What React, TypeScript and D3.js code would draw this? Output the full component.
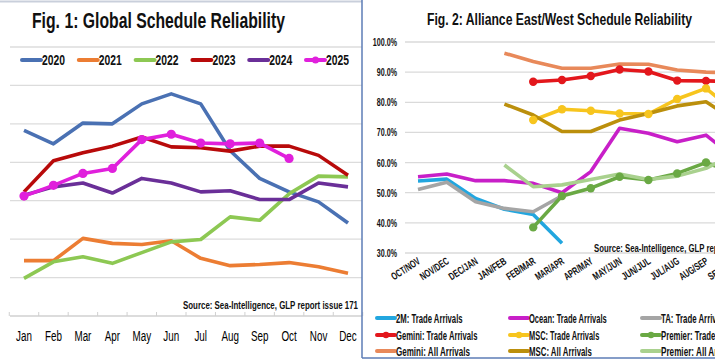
import React from 'react';
import * as d3 from 'd3';

// ---- Fig. 1 data (global schedule reliability, %) ----
const months = ['Jan', 'Feb', 'Mar', 'Apr', 'May', 'Jun', 'Jul', 'Aug', 'Sep', 'Oct', 'Nov', 'Dec'];
const years = ['2020', '2021', '2022', '2023', '2024', '2025'];
const rel2020 = [68.3, 64.8, 70.2, 70.0, 75.2, 77.8, 75.2, 63.0, 55.8, 52.3, 49.7, 44.2];
const rel2021 = [34.4, 34.4, 40.2, 38.9, 38.6, 39.6, 35.0, 33.1, 33.4, 33.9, 32.8, 31.1];
const rel2022 = [29.8, 34.1, 35.4, 33.7, 36.5, 39.3, 39.9, 45.8, 44.9, 51.8, 56.4, 56.2];
const rel2023 = [52.3, 60.4, 62.5, 64.2, 66.6, 64.0, 63.8, 62.9, 64.2, 64.2, 61.8, 56.6];
const rel2024 = [51.4, 53.6, 54.6, 52.0, 55.8, 54.6, 52.3, 52.6, 50.3, 50.3, 54.6, 53.6];
const rel2025 = [51.2, 54.0, 57.1, 58.4, 65.9, 67.3, 65.0, 64.8, 65.0, 61.0];
const yearColors = ['#4a71b3', '#ec7d33', '#8dc853', '#b80a0a', '#6a2f98', '#e020dc'];
const yearTicks = [20, 30, 40, 50, 60, 70, 80, 90];

// ---- Fig. 2 data (alliance east/west reliability, %) ----
const periods = ['OCT/NOV', 'NOV/DEC', 'DEC/JAN', 'JAN/FEB', 'FEB/MAR', 'MAR/APR', 'APR/MAY', 'MAY/JUN', 'JUN/JUL', 'JUL/AUG', 'AUG/SEP', 'SEP/OCT'];
const N = null;
const twoMTrade = [53.9, 54.5, 48.1, 44.5, 42.8, 33.2, N, N, N, N, N, N];
const oceanTrade = [55.3, 56.2, 54.0, 54.0, 53.1, 50.0, 57.0, 71.4, 69.7, 66.9, 69.1, 61.5];
const taTrade = [51.1, 53.5, 47.0, 44.8, 43.7, 49.0, N, N, N, N, N, N];
const geminiTrade = [N, N, N, N, 86.8, 87.4, 88.7, 90.9, 90.2, 87.2, 87.1, 86.8];
const mscTrade = [N, N, N, N, 74.1, 77.7, 77.2, 76.3, 76.1, 81.1, 84.6, 77.0];
const premierTrade = [N, N, N, N, 38.5, 48.9, 51.5, 55.3, 54.2, 56.4, 60.0, 56.5];
const geminiAll = [N, N, N, 96.3, 93.5, 91.3, 91.3, 92.7, 92.6, 90.7, 90.0, 89.8];
const mscAll = [N, N, N, 79.4, 75.8, 70.3, 70.3, 74.1, 76.3, 78.8, 80.2, 74.0];
const premierAll = [N, N, N, 59.2, 52.0, 52.6, 54.4, 56.2, 54.4, 55.5, 58.1, 63.0];
const pctTicks = [30, 40, 50, 60, 70, 80, 90, 100];

const seriesNames = [
  '2M: Trade Arrivals', 'Ocean: Trade Arrivals', 'TA: Trade Arrivals',
  'Gemini: Trade Arrivals', 'MSC: Trade Arrivals', 'Premier: Trade Arrivals',
  'Gemini: All Arrivals', 'MSC: All Arrivals', 'Premier: All Arrivals',
];
const seriesColors = ['#22a6df', '#c81fc8', '#a5a5a5', '#e3171c', '#f7c51e', '#6aa944', '#e8895a', '#bb8f0c', '#a9d18e'];

const FONT = "'Liberation Sans',Arial,sans-serif";

export default function App() {
  const W = 715;
  const H = 362;

  // left panel scales
  const x1 = d3.scalePoint<string>().domain(months).range([24, 348]);
  const step1 = x1.step();
  const y1 = d3.scaleLinear().domain([20, 90]).range([316, 47]);
  const yearData = [rel2020, rel2021, rel2022, rel2023, rel2024, rel2025];
  const line1 = d3.line<number>()
    .x((_, i) => x1(months[i]) ?? 0)
    .y(d => y1(d));

  // right panel scales
  const x2 = d3.scalePoint<string>().domain(periods).range([418, 418 + 28.8 * 11]);
  const y2 = d3.scaleLinear().domain([30, 100]).range([253, 42]);
  const alliance = [twoMTrade, oceanTrade, taTrade, geminiTrade, mscTrade, premierTrade, geminiAll, mscAll, premierAll];
  const withMarkers = [false, false, false, true, true, true, false, false, false];
  const line2 = d3.line<number | null>()
    .defined(d => d != null)
    .x((_, i) => x2(periods[i]) ?? 0)
    .y(d => y2(d as number));

  const legendCols = [377, 510, 642];
  const legendRows = [318, 335, 351];

  return (
    <svg width={W} height={H} style={{ position: 'absolute', left: 0, top: 0, background: '#fff' }}
      fontFamily={FONT}>
      {/* ---------- Fig. 1 ---------- */}
      <line x1={0} x2={362} y1={1.5} y2={1.5} stroke="#c9cfdb" strokeWidth={2} />
      <text x={32} y={28} fontSize={22} fontWeight="bold" fill="#111"
        textLength={253} lengthAdjust="spacingAndGlyphs">Fig. 1: Global Schedule Reliability</text>

      {yearTicks.map(t => (
        <line key={t} x1={10} x2={362} y1={y1(t)} y2={y1(t)}
          stroke={t === 20 ? '#d0d0d0' : '#dcdcdc'} strokeWidth={1.3} />
      ))}
      {d3.range(13).map(i => {
        const x = 24 - step1 / 2 + i * step1;
        return <line key={i} x1={x} x2={x} y1={y1(20) - 4} y2={y1(20)} stroke="#d0d0d0" strokeWidth={1} />;
      })}

      {/* legend */}
      {years.map((yr, i) => {
        const lx = 22 + i * 56.8;
        return (
          <g key={yr}>
            <line x1={lx} x2={lx + 19} y1={60} y2={60} stroke={yearColors[i]} strokeWidth={4} strokeLinecap="round" />
            {i === 5 && <circle cx={lx + 9.5} cy={60} r={3.5} fill={yearColors[i]} />}
            <text x={lx + 20} y={65} fontSize={14} fontWeight="bold" fill="#111"
              textLength={23} lengthAdjust="spacingAndGlyphs">{yr}</text>
          </g>
        );
      })}

      {yearData.map((d, i) => (
        <path key={years[i]} d={line1(d) ?? ''} fill="none" stroke={yearColors[i]}
          strokeWidth={3.6} strokeLinejoin="round" />
      ))}
      {rel2025.map((v, i) => (
        <circle key={i} cx={x1(months[i])} cy={y1(v)} r={4.6} fill={yearColors[5]} />
      ))}

      <text x={183} y={309} fontSize={11.5} fontWeight="bold" fill="#111"
        textLength={175} lengthAdjust="spacingAndGlyphs">Source: Sea-Intelligence, GLP report issue 171</text>

      {months.map(m => (
        <text key={m} transform={`translate(${x1(m)},341) scale(0.68,1)`} fontSize={14.5}
          textAnchor="middle" fill="#000">{m}</text>
      ))}

      {/* ---------- Fig. 2 ---------- */}
      <line x1={362} x2={362} y1={0} y2={358} stroke="#5c7cb6" strokeWidth={1.5} />
      <line x1={362} x2={715} y1={358} y2={358} stroke="#5c7cb6" strokeWidth={1.5} />

      <text x={427} y={25} fontSize={17} fontWeight="bold" fill="#111"
        textLength={265} lengthAdjust="spacingAndGlyphs">Fig. 2: Alliance East/West Schedule Reliability</text>

      {pctTicks.map(t => (
        <g key={t}>
          <line x1={405} x2={W} y1={y2(t)} y2={y2(t)} stroke="#dadada" strokeWidth={1.3} />
          <text transform={`translate(397,${y2(t) + 4}) scale(0.68,1)`} fontSize={10.5}
            fontWeight="bold" textAnchor="end" fill="#111">{t.toFixed(1)}%</text>
        </g>
      ))}

      {periods.map(p => {
        const x = (x2(p) ?? 0) + 3;
        return (
          <text key={p} x={x} y={263} fontSize={10.5} fontWeight="bold" textAnchor="end" fill="#111"
            transform={`rotate(-33 ${x} 263)`} textLength={p.length * 4.6} lengthAdjust="spacingAndGlyphs">{p}</text>
        );
      })}

      <text x={594} y={252} fontSize={10.5} fontWeight="bold" fill="#111"
        textLength={172} lengthAdjust="spacingAndGlyphs">Source: Sea-Intelligence, GLP report issue 171</text>

      {alliance.map((d, i) => (
        <path key={seriesNames[i]} d={line2(d) ?? ''} fill="none" stroke={seriesColors[i]}
          strokeWidth={3.6} strokeLinejoin="round" />
      ))}
      {alliance.map((d, i) => withMarkers[i] && d.map((v, j) => v == null ? null : (
        <circle key={`${i}-${j}`} cx={x2(periods[j])} cy={y2(v)} r={4.2} fill={seriesColors[i]} />
      )))}

      {/* legend */}
      {seriesNames.map((name, i) => {
        const lx = legendCols[i % 3];
        const ly = legendRows[Math.floor(i / 3)];
        return (
          <g key={name}>
            <line x1={lx} x2={lx + 18} y1={ly} y2={ly} stroke={seriesColors[i]} strokeWidth={4} strokeLinecap="round" />
            {withMarkers[i] && <circle cx={lx + 9} cy={ly} r={3.2} fill={seriesColors[i]} />}
            <text x={lx + 19} y={ly + 4.5} fontSize={12.5} fontWeight="bold" fill="#111"
              textLength={name.length * 3.7} lengthAdjust="spacingAndGlyphs">{name}</text>
          </g>
        );
      })}
    </svg>
  );
}
